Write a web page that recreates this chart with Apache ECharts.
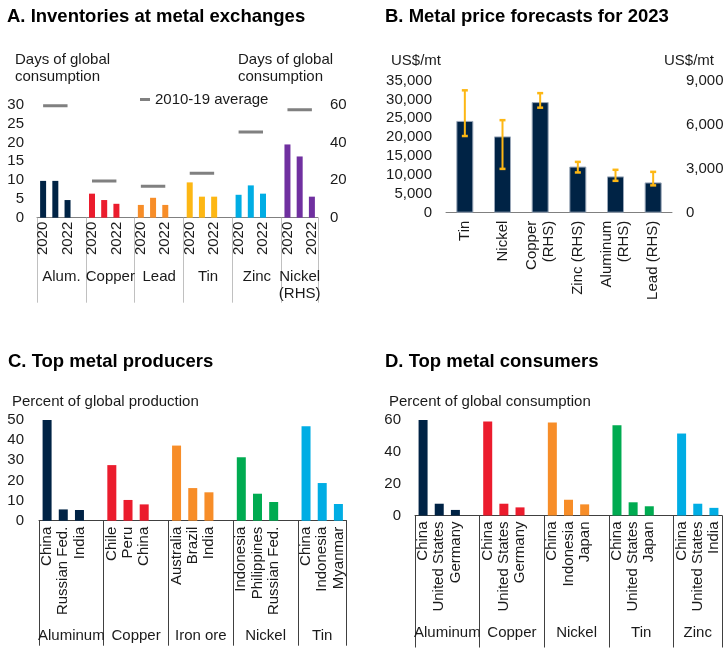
<!DOCTYPE html>
<html><head><meta charset="utf-8">
<script src="https://cdn.jsdelivr.net/npm/echarts@6/dist/echarts.min.js"></script>
<style>html,body{margin:0;padding:0;background:#fff}#c{width:728px;height:648px}</style>
</head><body><div id="c"></div>
<script>
// ---------- Panel A: Inventories at metal exchanges (days of global consumption)
const invGroups = ['Alum.', 'Copper', 'Lead', 'Tin', 'Zinc', 'Nickel\n(RHS)'];
const invTickLabels = ['2020', '', '2022'];          // 2020, 2021, 2022
const invAlum = [9.8, 9.8, 4.7];
const invCopper = [6.4, 4.7, 3.7];
const invLead = [3.4, 5.3, 3.4];
const invTin = [9.4, 5.6, 5.6];
const invZinc = [6.1, 8.6, 6.4];
const invNickel = [39.0, 32.6, 11.2];               // RHS
const invAvg = [29.8, 9.8, 8.4, 11.8, 22.8, 57.5];  // 2010-19 average, Nickel on RHS
const invOnRHS = [false, false, false, false, false, true];
const invColors = ['#002345', '#EB1C2D', '#F78D28', '#FDB714', '#00ADE4', '#7030A0'];
const invLeftTicks = [0, 30, 5];
const invRightTicks = [0, 60, 20];

// ---------- Panel B: Metal price forecasts for 2023 (US$/mt)
const priceMetals = ['Tin', 'Nickel', 'Copper\n(RHS)', 'Zinc (RHS)', 'Aluminum\n(RHS)', 'Lead (RHS)'];
const priceForecast = [24300, 20200, 7530, 3140, 2470, 2060];
const priceLow = [20300, 11600, 7150, 2740, 2170, 1860];
const priceHigh = [32400, 24500, 8140, 3460, 2920, 2780];
const priceOnRHS = [false, false, true, true, true, true];
const priceLeftTicks = [0, 35000, 5000];
const priceRightTicks = [0, 9000, 3000];

// ---------- Panel C: Top metal producers (percent of global production)
const prodGroups = ['Aluminum', 'Copper', 'Iron ore', 'Nickel', 'Tin'];
const prodCountries = [
  ['China', 'Russian Fed.', 'India'],
  ['Chile', 'Peru', 'China'],
  ['Australia', 'Brazil', 'India'],
  ['Indonesia', 'Philippines', 'Russian Fed.'],
  ['China', 'Indonesia', 'Myanmar']
];
const prodAluminum = [50.0, 5.6, 5.3];
const prodCopper = [27.6, 10.3, 8.1];
const prodIronOre = [37.3, 16.2, 14.1];
const prodNickel = [31.5, 13.4, 9.3];
const prodTin = [46.9, 18.7, 8.3];
const prodColors = ['#002345', '#EB1C2D', '#F78D28', '#00AB51', '#00ADE4'];
const prodTicks = [0, 50, 10];

// ---------- Panel D: Top metal consumers (percent of global consumption)
const consGroups = ['Aluminum', 'Copper', 'Nickel', 'Tin', 'Zinc'];
const consCountries = [
  ['China', 'United States', 'Germany'],
  ['China', 'United States', 'Germany'],
  ['China', 'Indonesia', 'Japan'],
  ['China', 'United States', 'Japan'],
  ['China', 'United States', 'India']
];
const consAluminum = [60.4, 7.4, 3.5];
const consCopper = [59.0, 7.4, 5.1];
const consNickel = [58.4, 9.9, 7.0];
const consTin = [56.7, 8.3, 5.8];
const consZinc = [51.5, 7.4, 4.8];
const consColors = ['#002345', '#EB1C2D', '#F78D28', '#00AB51', '#00ADE4'];
const consTicks = [0, 60, 20];

// ---------- helpers
const FONT = "'Liberation Sans', Arial, sans-serif";
const TXT = '#1a1a1a';

function makeSlots(groups, members) {
  const cats = [], labels = {}, centers = [], starts = [];
  groups.forEach((g, gi) => {
    const start = cats.length;
    starts.push(start);
    members[gi].forEach((m, mi) => { const k = gi + '|' + mi; cats.push(k); labels[k] = m; });
    if (gi < groups.length - 1) { const k = gi + '|gap'; cats.push(k); labels[k] = ''; }
    centers.push([start + (cats.length - start) / 2, g]);
  });
  return {cats, labels, centers, starts};
}
function makeBarData(groups, values, colors, pick) {
  const out = [];
  groups.forEach((g, gi) => {
    values[gi].forEach(v => out.push(pick(gi) ? {value: v, itemStyle: {color: colors[gi]}} : '-'));
    if (gi < groups.length - 1) out.push('-');
  });
  return out;
}
function makeAvgData(groups, avg, n, pick) {
  const out = [];
  groups.forEach((g, gi) => {
    for (let i = 0; i < n; i++) out.push(pick(gi) ? avg[gi] : '-');
    if (gi < groups.length - 1) out.push('-');
  });
  return out;
}
function catAxis(grid, slots, o) {
  return {
    type: 'category', gridIndex: grid, data: slots.cats, position: 'bottom',
    axisLine: {show: true, lineStyle: {color: o.lineColor, width: 1}},
    axisTick: {show: true, alignWithLabel: false, interval: (i) => slots.starts.indexOf(i) >= 0,
      length: o.tickLen, lineStyle: {color: o.tickColor, width: 1}},
    axisLabel: {interval: 0, rotate: 90, margin: o.margin, fontSize: 15, color: TXT, fontFamily: FONT,
      formatter: (v) => slots.labels[v]},
    splitLine: {show: false}
  };
}
function groupAxis(grid, slots, margin) {
  return {
    type: 'value', gridIndex: grid, position: 'bottom', min: 0, max: slots.cats.length, interval: 0.5,
    axisLine: {show: false}, axisTick: {show: false}, splitLine: {show: false},
    axisLabel: {margin: margin, fontSize: 15, lineHeight: 17, color: TXT, fontFamily: FONT, hideOverlap: false,
      showMinLabel: true, showMaxLabel: true,
      formatter: (v) => { const c = slots.centers.find(c => Math.abs(c[0] - v) < 1e-6); return c ? c[1] : ''; }}
  };
}
function valAxis(grid, ticks, pos, margin, fmt) {
  return {
    type: 'value', gridIndex: grid, position: pos, min: ticks[0], max: ticks[1], interval: ticks[2],
    axisLine: {show: false}, axisTick: {show: false}, splitLine: {show: false},
    axisLabel: {margin: margin, fontSize: 15, color: TXT, fontFamily: FONT, formatter: fmt}
  };
}
const commaFmt = (v) => Number(v).toLocaleString('en-US');

const invSlots = makeSlots(invGroups, invGroups.map(() => invTickLabels));
const invValues = [invAlum, invCopper, invLead, invTin, invZinc, invNickel];
const prodSlots = makeSlots(prodGroups, prodCountries);
const prodValues = [prodAluminum, prodCopper, prodIronOre, prodNickel, prodTin];
const consSlots = makeSlots(consGroups, consCountries);
const consValues = [consAluminum, consCopper, consNickel, consTin, consZinc];

function errRender(params, api) {
  const x = api.value(0);
  const lo = api.coord([x, api.value(1)]);
  const hi = api.coord([x, api.value(2)]);
  const c = 3, col = '#FDB714';
  return {type: 'group', children: [
    {type: 'line', shape: {x1: lo[0], y1: lo[1], x2: hi[0], y2: hi[1]}, style: {stroke: col, lineWidth: 2}},
    {type: 'line', shape: {x1: lo[0] - c, y1: lo[1], x2: lo[0] + c, y2: lo[1]}, style: {stroke: col, lineWidth: 2.5}},
    {type: 'line', shape: {x1: hi[0] - c, y1: hi[1], x2: hi[0] + c, y2: hi[1]}, style: {stroke: col, lineWidth: 2.5}}
  ]};
}
const errLeft = [], errRight = [];
priceMetals.forEach((m, i) => (priceOnRHS[i] ? errRight : errLeft).push([i, priceLow[i], priceHigh[i]]));

const titleStyle = {fontSize: 18.5, fontWeight: 'bold', color: '#000', fontFamily: FONT, lineHeight: 18};
const subStyle = {fontSize: 15, fontWeight: 'normal', color: TXT, fontFamily: FONT, lineHeight: 17};

const option = {
  animation: false,
  backgroundColor: '#fff',
  textStyle: {fontFamily: FONT},
  title: [
    {text: 'A. Inventories at metal exchanges', left: 7, top: 8, padding: 0, textStyle: titleStyle},
    {text: 'Days of global\nconsumption', left: 15, top: 51, padding: 0, textStyle: subStyle},
    {text: 'Days of global\nconsumption', left: 238, top: 51, padding: 0, textStyle: subStyle},
    {text: 'B. Metal price forecasts for 2023', left: 385, top: 8, padding: 0, textStyle: titleStyle},
    {text: 'US$/mt', left: 391, top: 52, padding: 0, textStyle: subStyle},
    {text: 'US$/mt', left: 664, top: 52, padding: 0, textStyle: subStyle},
    {text: 'C. Top metal producers', left: 8, top: 353, padding: 0, textStyle: titleStyle},
    {text: 'Percent of global production', left: 12, top: 393, padding: 0, textStyle: subStyle},
    {text: 'D. Top metal consumers', left: 385, top: 353, padding: 0, textStyle: titleStyle},
    {text: 'Percent of global consumption', left: 389, top: 393, padding: 0, textStyle: subStyle}
  ],
  legend: {
    data: ['2010-19 average'], left: 140, top: 92, padding: 0, icon: 'rect', itemWidth: 10, itemHeight: 3,
    selectedMode: false, textStyle: {fontSize: 15, color: TXT, fontFamily: FONT}
  },
  grid: [
    {left: 37, top: 105, width: 281, height: 112.7, outerBoundsMode: 'none'},
    {left: 446, top: 80.5, width: 226, height: 132.2, outerBoundsMode: 'none'},
    {left: 39, top: 420, width: 307.5, height: 100.7, outerBoundsMode: 'none'},
    {left: 415, top: 420, width: 307, height: 95.5, outerBoundsMode: 'none'}
  ],
  xAxis: [
    catAxis(0, invSlots, {lineColor: '#808080', tickColor: '#c0c0c0', tickLen: 85, margin: 4}),
    groupAxis(0, invSlots, 50.5),
    {type: 'category', gridIndex: 1, data: priceMetals, position: 'bottom',
      axisLine: {show: true, lineStyle: {color: '#808080'}}, axisTick: {show: false},
      axisLabel: {interval: 0, rotate: 90, margin: 8, fontSize: 15, lineHeight: 17, color: TXT, fontFamily: FONT}},
    catAxis(2, prodSlots, {lineColor: '#404040', tickColor: '#404040', tickLen: 125, margin: 6}),
    groupAxis(2, prodSlots, 106.5),
    catAxis(3, consSlots, {lineColor: '#404040', tickColor: '#404040', tickLen: 132, margin: 6}),
    groupAxis(3, consSlots, 109)
  ],
  yAxis: [
    valAxis(0, invLeftTicks, 'left', 13),
    valAxis(0, invRightTicks, 'right', 12),
    valAxis(1, priceLeftTicks, 'left', 14, commaFmt),
    valAxis(1, priceRightTicks, 'right', 14, commaFmt),
    valAxis(2, prodTicks, 'left', 15),
    valAxis(3, consTicks, 'left', 14)
  ],
  series: [
    {type: 'bar', xAxisIndex: 0, yAxisIndex: 0, barWidth: 6, barGap: '-100%',
      data: makeBarData(invGroups, invValues, invColors, (gi) => !invOnRHS[gi])},
    {type: 'bar', xAxisIndex: 0, yAxisIndex: 1, barWidth: 6, barGap: '-100%',
      data: makeBarData(invGroups, invValues, invColors, (gi) => invOnRHS[gi])},
    {type: 'line', name: '2010-19 average', xAxisIndex: 0, yAxisIndex: 0, symbol: 'none', color: '#808080',
      lineStyle: {width: 3, color: '#808080'}, connectNulls: false,
      data: makeAvgData(invGroups, invAvg, 3, (gi) => !invOnRHS[gi])},
    {type: 'line', name: '2010-19 average', xAxisIndex: 0, yAxisIndex: 1, symbol: 'none', color: '#808080',
      lineStyle: {width: 3, color: '#808080'}, connectNulls: false,
      data: makeAvgData(invGroups, invAvg, 3, (gi) => invOnRHS[gi])},

    {type: 'bar', xAxisIndex: 2, yAxisIndex: 2, barWidth: 17, barGap: '-100%',
      itemStyle: {color: '#002345', borderColor: '#9aa7b8', borderWidth: 1},
      data: priceForecast.map((v, i) => priceOnRHS[i] ? '-' : v)},
    {type: 'bar', xAxisIndex: 2, yAxisIndex: 3, barWidth: 17, barGap: '-100%',
      itemStyle: {color: '#002345', borderColor: '#9aa7b8', borderWidth: 1},
      data: priceForecast.map((v, i) => priceOnRHS[i] ? v : '-')},
    {type: 'custom', xAxisIndex: 2, yAxisIndex: 2, renderItem: errRender, encode: {x: 0, y: [1, 2]}, data: errLeft, z: 5},
    {type: 'custom', xAxisIndex: 2, yAxisIndex: 3, renderItem: errRender, encode: {x: 0, y: [1, 2]}, data: errRight, z: 5},

    {type: 'bar', xAxisIndex: 3, yAxisIndex: 4, barWidth: 9,
      data: makeBarData(prodGroups, prodValues, prodColors, () => true)},
    {type: 'bar', xAxisIndex: 5, yAxisIndex: 5, barWidth: 9,
      data: makeBarData(consGroups, consValues, consColors, () => true)}
  ]
};
const chart = echarts.init(document.getElementById('c'), null, {renderer: 'canvas'});
chart.setOption(option);
</script>
</body></html>
